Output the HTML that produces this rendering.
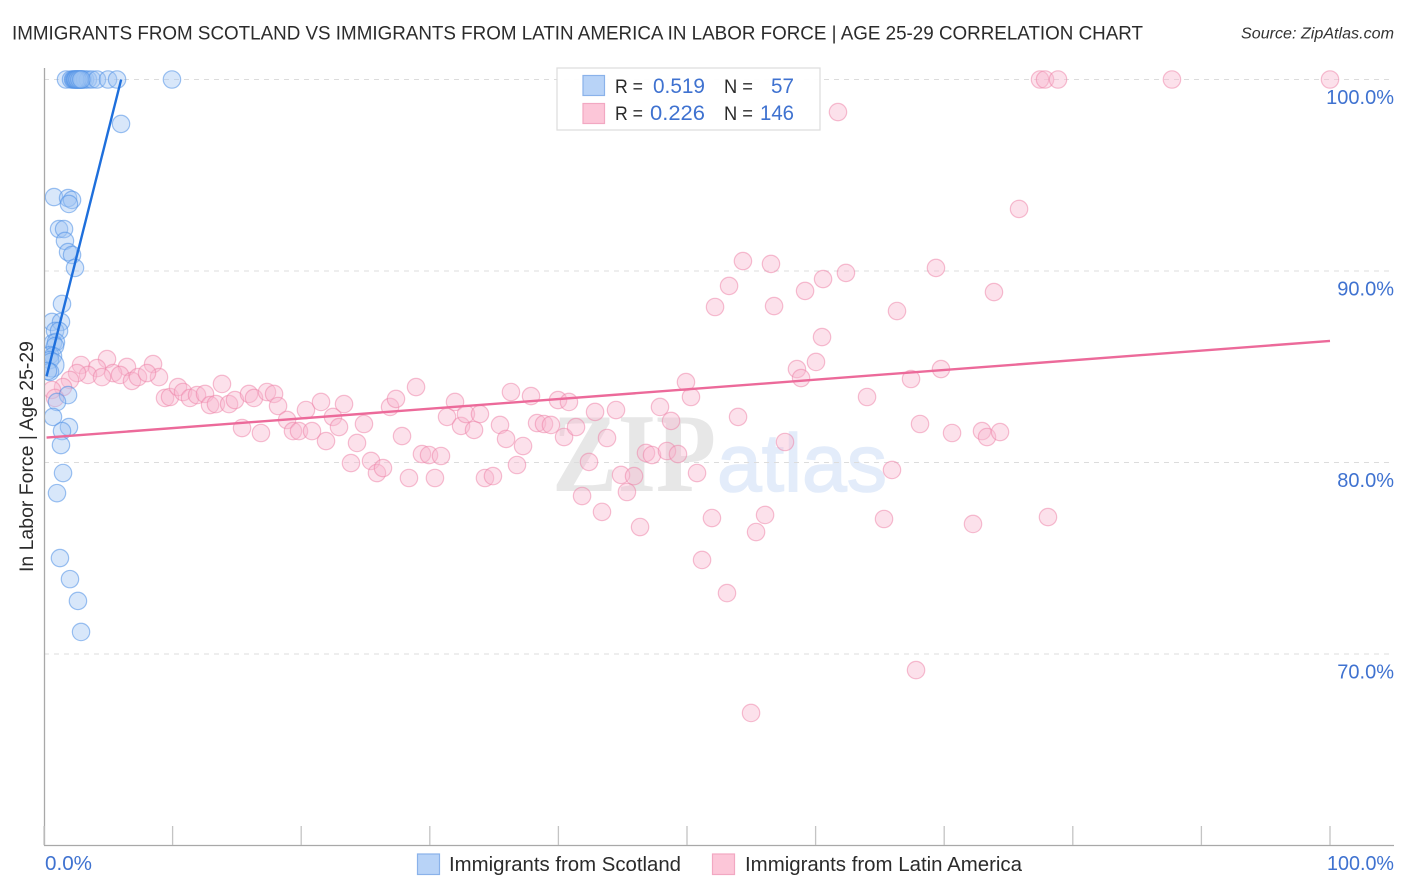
<!DOCTYPE html>
<html lang="en">
<head>
<meta charset="utf-8">
<title>Immigrants from Scotland vs Immigrants from Latin America in Labor Force | Age 25-29 Correlation Chart</title>
<style>
html,body{margin:0;padding:0;background:#fff;}
#chart-root{position:relative;width:1406px;height:892px;overflow:hidden;background:#fff;font-family:"Liberation Sans",sans-serif;}
svg{position:absolute;left:0;top:0;filter:blur(0.3px);}
text{font-family:"Liberation Sans",sans-serif;}
</style>
</head>
<body>
<div id="chart-root">
<svg id="chart" width="1406" height="892" viewBox="0 0 1406 892" xmlns="http://www.w3.org/2000/svg">
  <defs>
    <clipPath id="plot-clip"><rect x="45" y="60" width="1361" height="786"/></clipPath>
  </defs>
  <text x="12" y="39.5" font-size="19.6" fill="#2b2b2b" textLength="1131" lengthAdjust="spacingAndGlyphs">IMMIGRANTS FROM SCOTLAND VS IMMIGRANTS FROM LATIN AMERICA IN LABOR FORCE | AGE 25-29 CORRELATION CHART</text>
  <text x="1241" y="38.5" font-size="15.5" font-style="italic" fill="#333" textLength="153" lengthAdjust="spacingAndGlyphs">Source: ZipAtlas.com</text>
  <text x="552" y="491" font-size="112" font-weight="bold" fill="#e7e7e7" style="font-family:'Liberation Serif',serif" textLength="164" lengthAdjust="spacingAndGlyphs">ZIP</text>
  <text x="717" y="491" font-size="82" fill="#e3ecfa" stroke="#e3ecfa" stroke-width="1.5" style="font-family:'Liberation Sans',sans-serif" textLength="170" lengthAdjust="spacingAndGlyphs">atlas</text>
  <g id="grid"></g>
  <g id="axes"></g>
  <g id="latin-points" clip-path="url(#plot-clip)"></g>
  <g id="scotland-points" clip-path="url(#plot-clip)"></g>
  <g id="trends"></g>
  <text transform="translate(33,456.5) rotate(-90)" font-size="19" fill="#2b2b2b" text-anchor="middle" textLength="231" lengthAdjust="spacingAndGlyphs">In Labor Force | Age 25-29</text>
  <g id="y-labels"></g>
  <text x="45" y="870" font-size="20" fill="#3f72d0" textLength="47" lengthAdjust="spacingAndGlyphs">0.0%</text>
  <text x="1327" y="870" font-size="20" fill="#3f72d0" textLength="67" lengthAdjust="spacingAndGlyphs">100.0%</text>

  <g>
    <rect x="557" y="68" width="263" height="62" fill="#fff" fill-opacity="0.92" stroke="#dcdcdc" stroke-width="1.2"/>
    <rect x="583" y="75.5" width="21.5" height="20" fill="#b8d3f7" stroke="#8ab2ea" stroke-width="1.2"/>
    <rect x="583" y="103.5" width="21.5" height="20" fill="#fcc6d8" stroke="#f2a8c2" stroke-width="1.2"/>
    <text x="615" y="93" font-size="19.5" fill="#2b2b2b" textLength="28" lengthAdjust="spacingAndGlyphs">R =</text>
    <text x="653" y="93" font-size="21.5" fill="#3f72d0" textLength="52" lengthAdjust="spacingAndGlyphs">0.519</text>
    <text x="724" y="93" font-size="19.5" fill="#2b2b2b" textLength="29" lengthAdjust="spacingAndGlyphs">N =</text>
    <text x="771" y="93" font-size="21.5" fill="#3f72d0" textLength="23" lengthAdjust="spacingAndGlyphs">57</text>
    <text x="615" y="120" font-size="19.5" fill="#2b2b2b" textLength="28" lengthAdjust="spacingAndGlyphs">R =</text>
    <text x="650" y="120" font-size="21.5" fill="#3f72d0" textLength="55" lengthAdjust="spacingAndGlyphs">0.226</text>
    <text x="724" y="120" font-size="19.5" fill="#2b2b2b" textLength="29" lengthAdjust="spacingAndGlyphs">N =</text>
    <text x="760" y="120" font-size="21.5" fill="#3f72d0" textLength="34" lengthAdjust="spacingAndGlyphs">146</text>
  </g>

  <g>
    <rect x="417.5" y="854" width="22" height="20.5" fill="#b8d3f7" stroke="#8ab2ea" stroke-width="1.2"/>
    <text x="449" y="871" font-size="20" fill="#2b2b2b" textLength="232" lengthAdjust="spacingAndGlyphs">Immigrants from Scotland</text>
  </g>
  <g>
    <rect x="712.5" y="854" width="22" height="20.5" fill="#fcc6d8" stroke="#f2a8c2" stroke-width="1.2"/>
    <text x="745" y="871" font-size="20" fill="#2b2b2b" textLength="277" lengthAdjust="spacingAndGlyphs">Immigrants from Latin America</text>
  </g>
</svg>
</div>
<script>
const yTicks = [100, 90, 80, 70];
const yTickLabels = ["100.0%", "90.0%", "80.0%", "70.0%"];
const xTicks = [0, 10, 20, 30, 40, 50, 60, 70, 80, 90, 100];

const scotlandX = [1.71,2.10,2.26,2.33,2.41,2.49,2.57,2.64,2.72,2.80,2.88,2.95,3.03,3.19,3.42,3.73,4.12,4.98,5.68,9.95,
  5.99,0.78,1.87,2.18,1.94,1.17,1.56,1.63,1.87,2.18,2.41,1.40,0.62,1.32,0.86,1.17,0.70,0.93,0.86,0.47,0.70,0.47,0.62,0.47,0.31,
  1.87,1.01,0.70,1.94,1.40,1.32,1.48,1.01,1.24,2.02,2.64,2.88,2.45,2.60,2.75,2.90];
const scotlandY = [100,100,100,100,100,100,100,100,100,100,100,100,100,100,100,100,100,100,100,100,
  97.68,93.86,93.81,93.71,93.50,92.19,92.19,91.57,90.99,90.84,90.16,88.28,87.34,87.34,86.87,86.87,86.24,86.29,86.08,85.61,85.56,85.35,85.09,84.73,84.78,
  83.52,83.16,82.38,81.85,81.64,80.91,79.45,78.40,75.01,73.91,72.77,71.15,100,100,100,100];
const scotlandLargeIndex = 42;

const latinX = [2.88,4.90,6.45,8.48,8.94,5.37,4.12,3.42,2.57,2.02,4.51,5.91,6.84,7.31,8.01,1.48,0.62,0.86,9.41,9.80,10.42,10.81,11.35,11.90,
  12.52,12.91,13.37,13.84,14.39,14.85,15.40,15.94,16.33,16.87,17.34,17.89,18.20,18.90,19.36,19.83,20.37,20.84,21.54,21.93,22.47,22.94,23.33,23.87,24.34,24.88,
  25.43,25.89,26.36,26.91,27.37,27.84,28.38,28.93,29.39,29.94,30.40,30.87,31.34,31.96,32.43,32.81,33.44,33.90,34.29,34.91,35.46,35.93,36.31,36.78,37.25,37.87,
  38.34,38.88,39.42,39.97,40.44,40.82,41.37,41.84,42.38,42.85,43.39,43.78,44.48,44.87,45.33,45.88,46.35,46.81,47.28,47.90,48.44,48.76,49.30,49.92,50.31,50.78,
  51.17,51.94,52.18,53.11,53.27,53.97,54.35,54.98,55.37,56.07,56.53,56.77,57.62,58.55,58.87,59.18,60.03,60.50,60.58,61.74,62.36,64.00,65.32,65.94,66.33,67.42,
  67.81,68.12,69.36,69.75,70.61,72.24,72.94,73.33,73.87,74.34,75.82,78.07,77.45,77.84,78.85,87.71,100.0];
const latinY = [85.09,85.40,84.99,85.14,84.46,84.67,84.93,84.57,84.67,84.31,84.46,84.57,84.26,84.46,84.67,83.94,83.79,83.37,83.37,83.42,83.94,83.68,83.37,83.52,
  83.58,83.00,83.05,84.10,83.05,83.26,81.80,83.58,83.37,81.54,83.68,83.58,82.95,82.22,81.64,81.64,82.74,81.64,83.16,81.12,82.38,81.85,83.05,79.97,81.02,82.01,
  80.08,79.45,79.71,82.90,83.32,81.38,79.19,83.94,80.44,80.39,79.19,80.34,82.38,83.16,81.91,82.53,81.70,82.53,79.19,79.29,81.96,81.23,83.68,79.87,80.86,83.47,
  82.06,82.01,81.96,83.26,81.33,83.16,81.85,78.25,80.03,82.64,77.42,81.28,82.74,79.35,78.46,79.29,76.63,80.50,80.39,82.90,80.60,82.17,80.44,84.20,83.42,79.45,
  74.91,77.10,88.12,73.18,89.22,82.38,90.52,66.92,76.37,77.26,90.37,88.17,81.07,84.88,84.41,88.96,85.25,86.55,89.58,98.30,89.90,83.42,77.05,79.61,87.91,84.36,
  69.16,82.01,90.16,84.88,81.54,76.79,81.64,81.33,88.90,81.59,93.24,77.15,100,100,100,100,100];

const scotlandTrendX = [0.2, 6.0];
const scotlandTrendY = [84.5, 100];
const latinTrendX = [0.2, 100];
const latinTrendY = [81.3, 86.35];

const NS = 'http://www.w3.org/2000/svg';
const xScale = v => 44 + v * 12.86;
const yScale = v => 79.5 + (100 - v) * 19.15;

function make(tag, attrs, parent) {
  const el = document.createElementNS(NS, tag);
  for (const k in attrs) el.setAttribute(k, attrs[k]);
  parent.appendChild(el);
  return el;
}

const gridG = document.getElementById('grid');
yTicks.forEach(t => {
  const l = make('line', {x1: 44, x2: 1394, y1: yScale(t), y2: yScale(t), stroke: '#dcdcdc', 'stroke-width': 1, 'stroke-dasharray': '5 5'}, gridG);
  
  
});

const axesG = document.getElementById('axes');
const yAxis = make('line', {x1: 44.5, x2: 44.5, y1: 68, y2: 845.5, stroke: '#a8a8a8', 'stroke-width': 1.3}, axesG);


const xAxis = make('line', {x1: 44, x2: 1394, y1: 845.5, y2: 845.5, stroke: '#a8a8a8', 'stroke-width': 1.3}, axesG);


xTicks.forEach(t => {
  const l = make('line', {x1: xScale(t), x2: xScale(t), y1: 826, y2: 845, stroke: '#c4c4c4', 'stroke-width': 1.3}, axesG);
  
  
});

const yLabelG = document.getElementById('y-labels');
yTicks.forEach((t, i) => {
  const el = make('text', {x: 1394, y: yScale(t) + 24.5, 'font-size': 20, fill: '#3f72d0', 'text-anchor': 'end'}, yLabelG);
  el.textContent = yTickLabels[i];
  
  
});

const latinG = document.getElementById('latin-points');
latinX.forEach((x, i) => {
  const c = make('circle', {cx: xScale(x), cy: yScale(latinY[i]), r: 8.7, fill: '#f9b8cf', 'fill-opacity': 0.42, stroke: '#ee7fa6', 'stroke-opacity': 0.5, 'stroke-width': 1.2}, latinG);
  
  
});

const scotG = document.getElementById('scotland-points');
scotlandX.forEach((x, i) => {
  const c = make('circle', {cx: xScale(x), cy: yScale(scotlandY[i]), r: i === scotlandLargeIndex ? 12 : 8.7, fill: '#9dc3f3', 'fill-opacity': 0.4, stroke: '#4f8fe6', 'stroke-opacity': 0.55, 'stroke-width': 1.2}, scotG);
  
  
});

const trendG = document.getElementById('trends');
const latinLine = make('line', {x1: xScale(latinTrendX[0]), y1: yScale(latinTrendY[0]), x2: xScale(latinTrendX[1]), y2: yScale(latinTrendY[1]), stroke: '#ec6a9a', 'stroke-width': 2.4}, trendG);


const scotLine = make('line', {x1: xScale(scotlandTrendX[0]), y1: yScale(scotlandTrendY[0]), x2: xScale(scotlandTrendX[1]), y2: yScale(scotlandTrendY[1]), stroke: '#1e6fdc', 'stroke-width': 2.4}, trendG);


</script>
</body>
</html>
